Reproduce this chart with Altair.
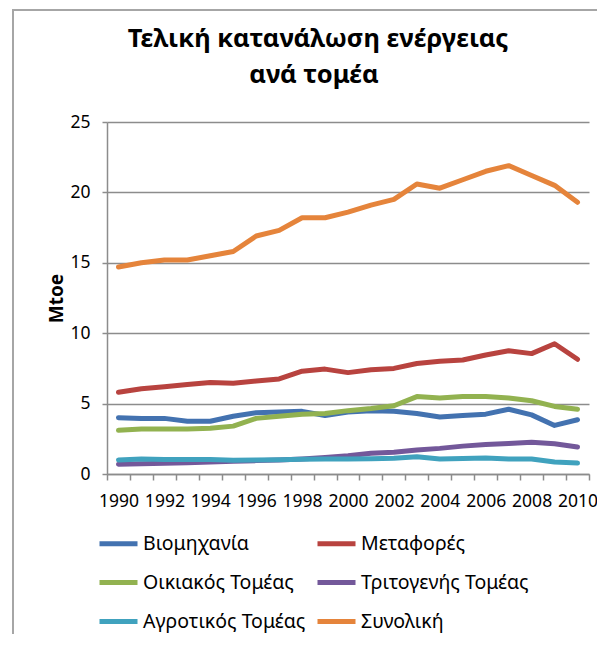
import altair as alt
import pandas as pd

years = list(range(1990, 2011))
series_names = ["Βιομηχανία", "Μεταφορές", "Οικιακός Τομέας",
                "Τριτογενής Τομέας", "Αγροτικός Τομέας", "Συνολική"]
industry = [4.0, 3.95, 3.95, 3.75, 3.75, 4.1, 4.35, 4.4, 4.45, 4.15, 4.4,
            4.5, 4.45, 4.3, 4.05, 4.15, 4.25, 4.6, 4.2, 3.45, 3.85]
transport = [5.8, 6.05, 6.2, 6.35, 6.5, 6.45, 6.6, 6.75, 7.3, 7.45, 7.2,
             7.4, 7.5, 7.85, 8.0, 8.1, 8.45, 8.75, 8.55, 9.25, 8.15]
residential = [3.1, 3.2, 3.2, 3.2, 3.25, 3.4, 3.95, 4.1, 4.25, 4.3, 4.5,
               4.65, 4.85, 5.5, 5.4, 5.5, 5.5, 5.4, 5.2, 4.8, 4.6]
tertiary = [0.7, 0.72, 0.76, 0.8, 0.85, 0.9, 0.95, 1.0, 1.07, 1.17, 1.3,
            1.48, 1.55, 1.7, 1.82, 1.98, 2.1, 2.17, 2.25, 2.15, 1.92]
agriculture = [1.0, 1.07, 1.03, 1.03, 1.03, 0.97, 1.0, 1.02, 1.05, 1.07, 1.07,
               1.08, 1.12, 1.22, 1.07, 1.1, 1.13, 1.07, 1.07, 0.85, 0.78]
total = [14.7, 15.0, 15.2, 15.2, 15.5, 15.8, 16.9, 17.3, 18.2, 18.2, 18.6,
         19.1, 19.5, 20.6, 20.3, 20.9, 21.5, 21.9, 21.2, 20.5, 19.3]
colors = ["#4372B0", "#B8433F", "#92B250", "#73589A", "#40A2BE", "#E5843B"]
y_ticks = [0, 5, 10, 15, 20, 25]
title_lines = ["Τελική κατανάλωση ενέργειας", "ανά τομέα"]

all_series = [industry, transport, residential, tertiary, agriculture, total]
rows = []
for name, vals in zip(series_names, all_series):
    for yr, v in zip(years, vals):
        rows.append({"year": yr, "value": v, "series": name})
df = pd.DataFrame(rows)

# legend is filled column by column: put the entries in that order
legend_order = [series_names[i] for i in (0, 2, 4, 1, 3, 5)]
legend_colors = [colors[i] for i in (0, 2, 4, 1, 3, 5)]

FONT = "Noto Sans"

lines = alt.Chart(df).mark_line(strokeWidth=5, strokeCap="round", strokeJoin="round").encode(
    x=alt.X("year:O", title=None,
            scale=alt.Scale(type="band", paddingInner=0, paddingOuter=0),
            axis=alt.Axis(labelAngle=0, tickBand="extent", labelOverlap=False,
                          labelExpr="datum.value % 2 == 0 ? datum.label : ''",
                          labelFontSize=17.5, labelPadding=12, tickSize=6,
                          domainColor="#8c8c8c", tickColor="#8c8c8c",
                          domainWidth=1.5, tickWidth=1.5, labelColor="#000")),
    y=alt.Y("value:Q", title="Mtoe",
            scale=alt.Scale(domain=[0, 25], nice=False),
            axis=alt.Axis(values=y_ticks, labelFontSize=17.5, labelPadding=12, tickSize=5,
                          domainColor="#8c8c8c", tickColor="#8c8c8c", gridColor="#8c8c8c",
                          domainWidth=1.5, tickWidth=1.5, gridWidth=1.3, labelColor="#000",
                          titleFontSize=19, titleFontWeight="bold", titleColor="#000",
                          titleX=-45, titleY=176, titleAlign="center",
                          titleBaseline="alphabetic")),
    color=alt.Color("series:N", sort=legend_order,
                    scale=alt.Scale(domain=legend_order, range=legend_colors),
                    legend=alt.Legend(title=None, orient="none", legendX=-10, legendY=400,
                                      columns=2, symbolType="stroke", symbolSize=1444,
                                      symbolStrokeWidth=5, labelFontSize=19.5,
                                      labelOffset=3, rowPadding=7, columnPadding=1,
                                      padding=0, labelColor="#000", labelLimit=300)),
)

frame = alt.Chart(pd.DataFrame({"k": [0]})).mark_rect(
    fill=None, stroke="#a6a6a6", strokeWidth=2
).encode(x=alt.value(-94), x2=alt.value(700), y=alt.value(-112), y2=alt.value(700))

title1 = alt.Chart(pd.DataFrame({"t": [title_lines[0]]})).mark_text(
    fontSize=25.5, fontWeight="bold", font=FONT, color="#000", align="center",
    baseline="alphabetic"
).encode(text="t:N", x=alt.value(211), y=alt.value(-75))

title2 = alt.Chart(pd.DataFrame({"t": [title_lines[1]]})).mark_text(
    fontSize=25.5, fontWeight="bold", font=FONT, color="#000", align="center",
    baseline="alphabetic"
).encode(text="t:N", x=alt.value(207), y=alt.value(-39))

chart = alt.layer(frame, title1, title2, lines).properties(
    width=482, height=352,
    autosize=alt.AutoSizeParams(type="none"),
    padding={"left": 99, "top": 114, "right": 8, "bottom": 160},
).configure(font=FONT).configure_view(stroke=None).configure_axisX(grid=False)

chart.save("out.html", embed_options={"renderer": "svg", "actions": False})
